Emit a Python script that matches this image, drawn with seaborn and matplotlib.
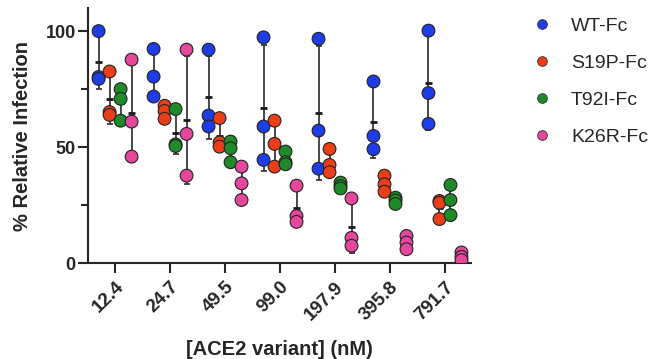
import numpy as np
import pandas as pd
import matplotlib
matplotlib.use("Agg")
import matplotlib.pyplot as plt
import seaborn as sns

concentrations = ["12.4", "24.7", "49.5", "99.0", "197.9", "395.8", "791.7"]
variants = ["WT-Fc", "S19P-Fc", "T92I-Fc", "K26R-Fc"]
colors = ["#1f3de6", "#ea3f16", "#1e8a28", "#e4479c"]

wt = [[100, 80.2, 79.4], [92.3, 80.4, 71.8], [92, 63.6, 58.9], [97.3, 58.9, 44.5],
      [96.7, 57.1, 40.7], [78.3, 54.8, 49.1], [100.2, 73.3, 60]]
s19p = [[82.6, 65.1, 63.9], [67.8, 65.6, 62.2], [62.5, 52, 50.2], [61.4, 51.4, 41.6],
        [49.2, 42.3, 39.2], [37.7, 34, 30.8], [26.8, 26, 19]]
t92i = [[75, 70.8, 61.4], [66.4, 51.2, 50.5], [52.4, 49.5, 43.5], [48.1, 43.5, 42.6],
        [34.7, 33.2, 32.2], [28.2, 27, 25.5], [33.7, 27.2, 20.7]]
k26r = [[87.7, 61, 45.9], [92, 55.7, 37.7], [41.6, 34.4, 27.2], [33.4, 20.3, 17.8],
        [27.9, 10.9, 7.5], [11.7, 8.9, 6.0], [4.6, 2.7, 1.3]]

series = {"WT-Fc": wt, "S19P-Fc": s19p, "T92I-Fc": t92i, "K26R-Fc": k26r}

rows = []
for v, vals in series.items():
    for c, reps in zip(concentrations, vals):
        for r in reps:
            rows.append({"conc": c, "variant": v, "value": r})
df = pd.DataFrame(rows)

sns.set_style("ticks")
plt.rcParams["font.family"] = ["Liberation Sans", "DejaVu Sans"]

fig = plt.figure(figsize=(6.53, 3.59), dpi=100)
ax = fig.add_axes([0.135, 0.267, 0.586, 0.711])

# mean +/- SD error bars (same dodge positions as stripplot: width 0.8 / 4 levels)
offsets = [-0.3, -0.1, 0.1, 0.3]
for vi, v in enumerate(variants):
    for ci, c in enumerate(concentrations):
        reps = np.array(series[v][ci])
        m, sd = reps.mean(), reps.std(ddof=1)
        x = ci + offsets[vi]
        ax.errorbar([x], [m], yerr=[sd], fmt="none", ecolor="#3a3a3a",
                    elinewidth=1.3, capsize=2.5, capthick=1.3, zorder=1)
        ax.plot([x - 0.07, x + 0.07], [m, m], color="#1a1a1a", lw=2, zorder=1,
                solid_capstyle="butt")

sns.stripplot(data=df, x="conc", y="value", hue="variant", order=concentrations,
              hue_order=variants, palette=colors, dodge=True, jitter=False,
              size=9.2, linewidth=0.8, edgecolor="#222222", ax=ax, zorder=3,
              legend=False)

ax.set_xlim(-0.49, 6.47)
ax.set_ylim(0, 110)
ax.set_yticks([0, 50, 100])
ax.set_yticks([25, 75], minor=True)
ax.tick_params(axis="y", which="major", length=7, width=1.5, labelsize=13, pad=2)
ax.tick_params(axis="y", which="minor", length=5, width=1.5)
ax.tick_params(axis="x", length=7, width=1.5, labelsize=13.5, pad=4)
for lab in ax.get_yticklabels():
    lab.set_fontweight("bold")
ax.set_xticks(range(len(concentrations)))
ax.set_xticklabels(concentrations, rotation=45, ha="right", rotation_mode="anchor",
                   fontweight="bold")
for s in ["top", "right"]:
    ax.spines[s].set_visible(False)
for s in ["left", "bottom"]:
    ax.spines[s].set_linewidth(1.5)
ax.set_xlabel("[ACE2 variant] (nM)", fontsize=14.5, fontweight="bold", labelpad=12)
ax.set_ylabel("% Relative Infection", fontsize=14.5, fontweight="bold", labelpad=10)

handles = [plt.Line2D([], [], marker="o", ls="none", markersize=7, markerfacecolor=c,
                      markeredgecolor="#333333", markeredgewidth=0.6) for c in colors]
fig.legend(handles, variants, loc="upper left", bbox_to_anchor=(0.785, 1.0),
           frameon=False, fontsize=14, labelspacing=1.0, handletextpad=0.9,
           handlelength=1.2)

fig.savefig("out.png", dpi=100)
